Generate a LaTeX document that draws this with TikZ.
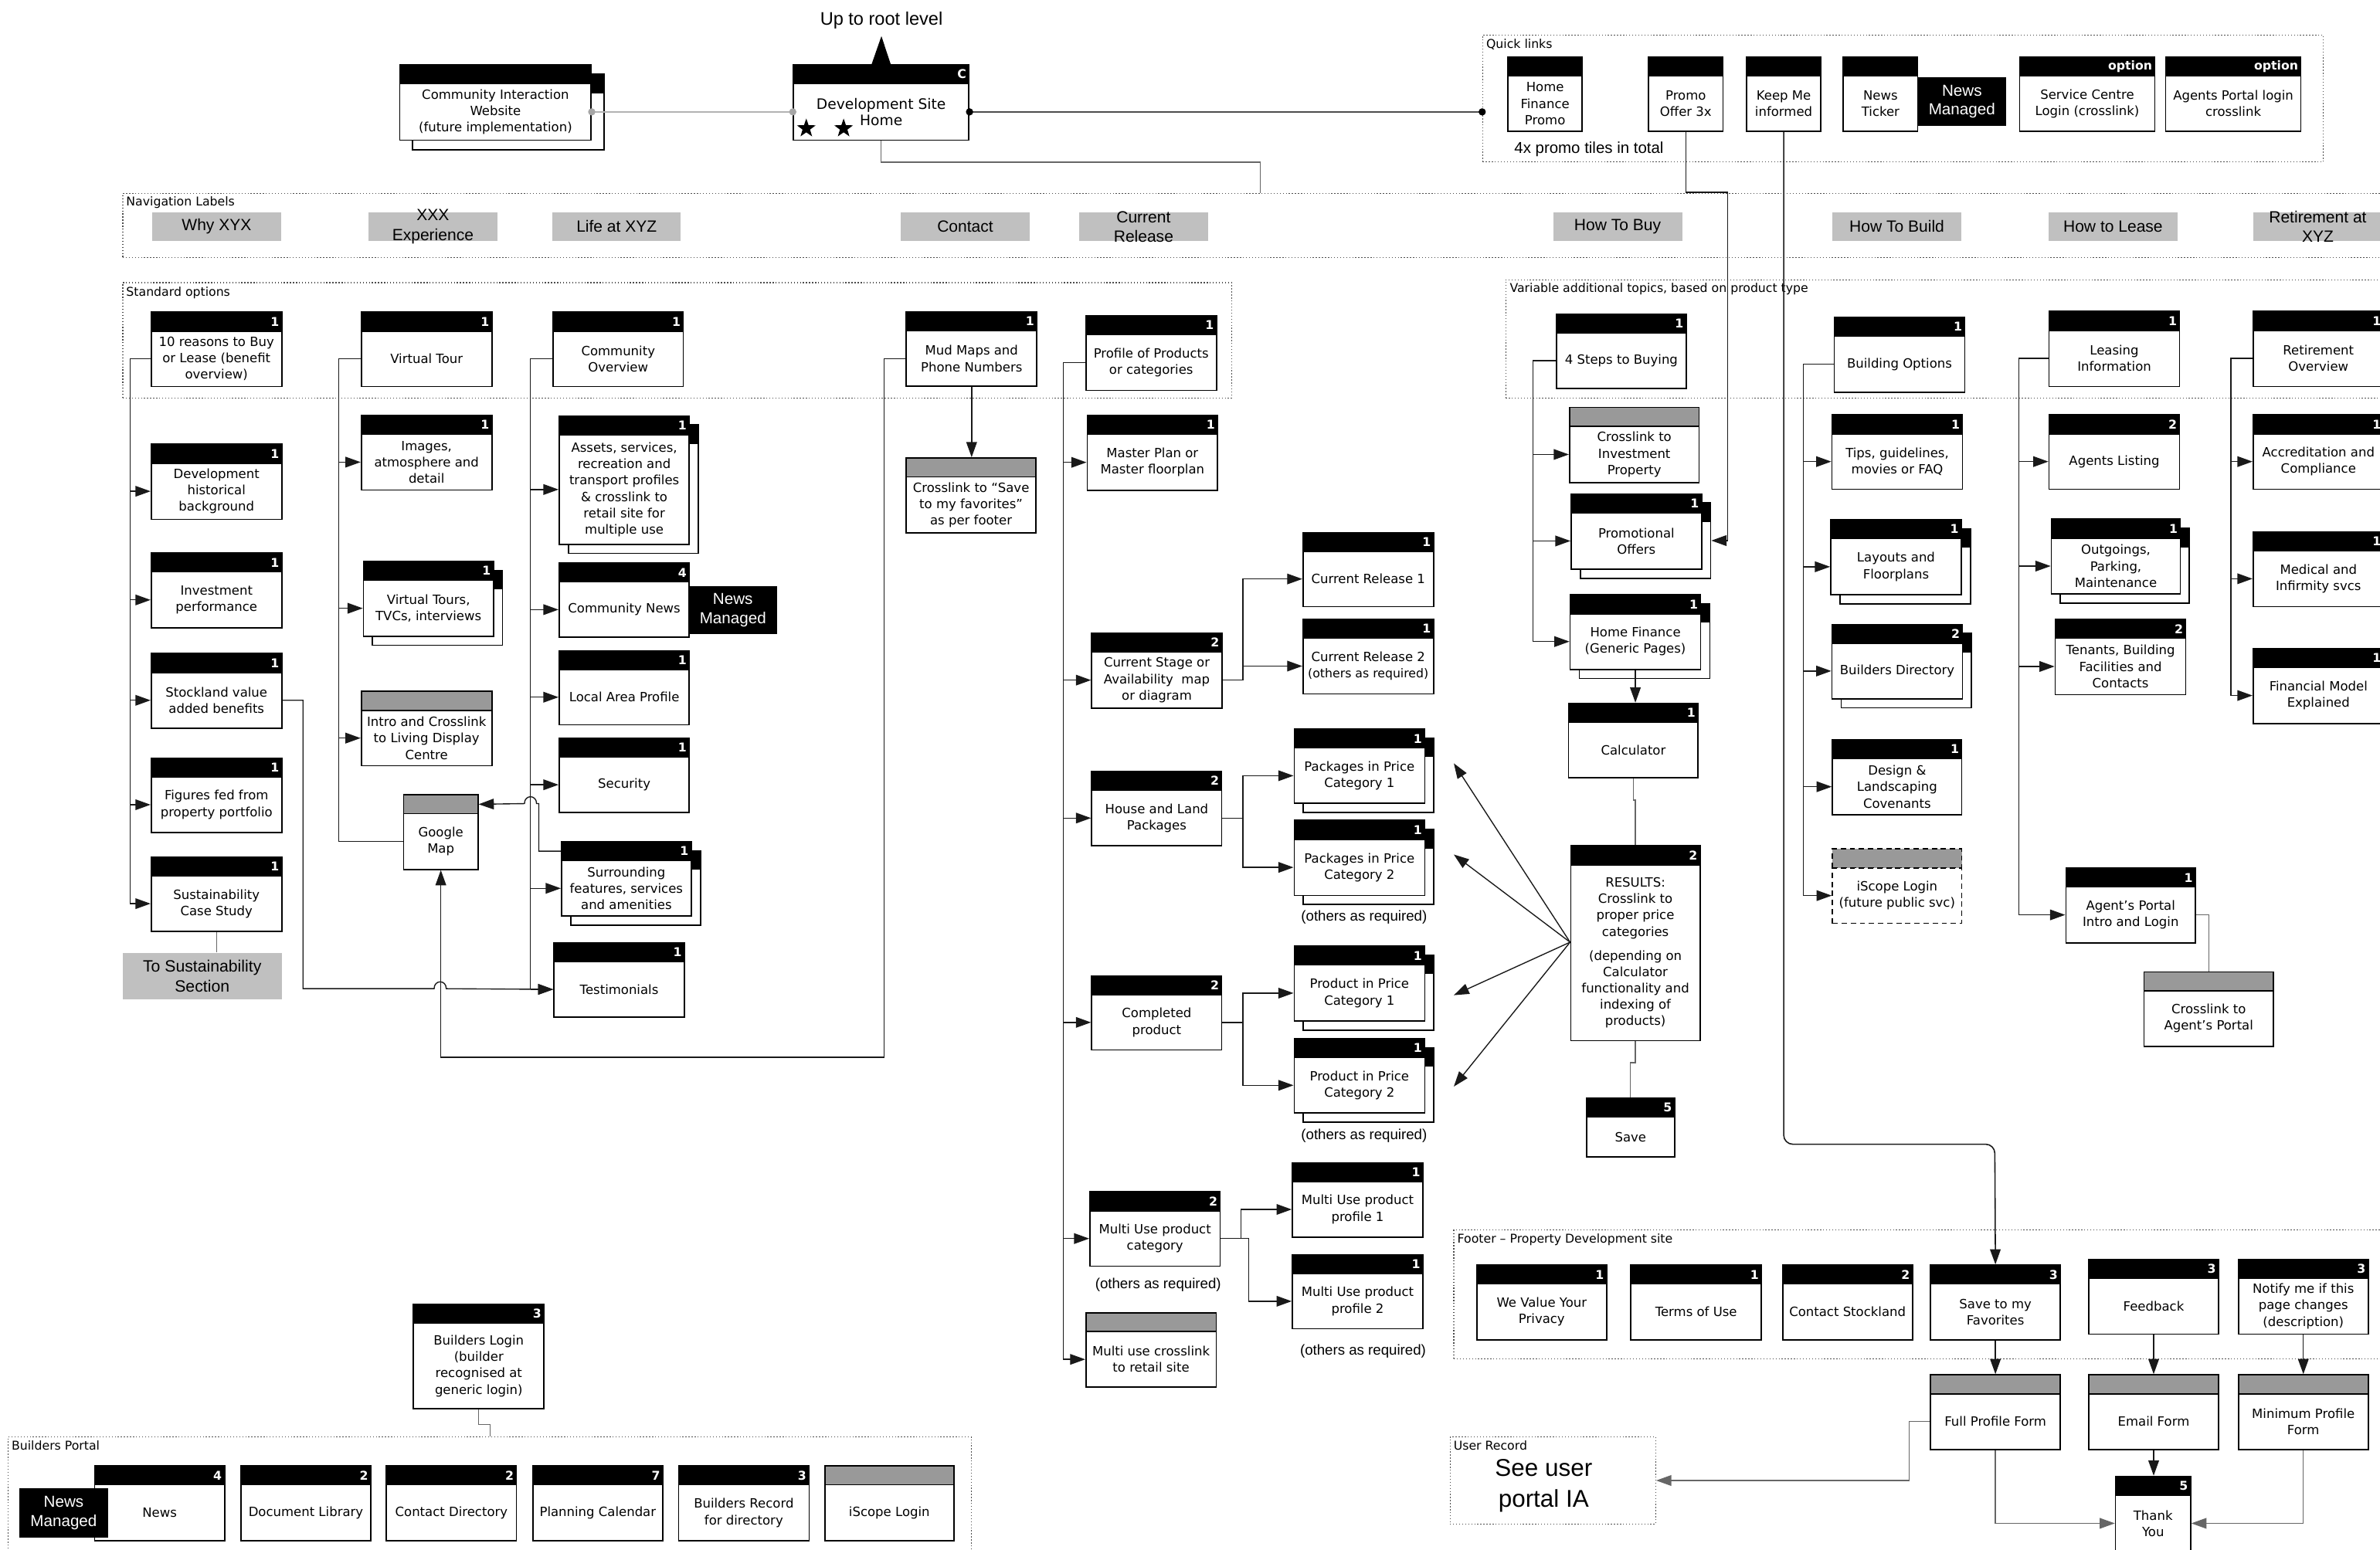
\documentclass[tikz,border=0pt]{standalone}
\usepackage{fontspec}
\setmainfont{Liberation Sans}
\newfontfamily\djv{DejaVu Sans}
\usetikzlibrary{arrows.meta,shapes.geometric,calc}
\newcommand\bxfnt{\djv\fontsize{8.4}{10.8}\selectfont}
\newcommand\smfnt{\fontsize{8}{10.8}\selectfont}
\newcommand\bgfnt{\djv\fontsize{9.5}{11.6}\selectfont}
\newcommand\numfnt{\djv\bfseries\fontsize{8}{9}\selectfont}
\definecolor{hdgray}{rgb}{0.6,0.6,0.6}
\definecolor{navgray}{rgb}{0.753,0.753,0.753}
\definecolor{lnk}{rgb}{0.1,0.1,0.1}
\tikzset{
  bx/.style={draw=black, line width=0.85pt, fill=white, inner sep=0pt, align=center, font=\bxfnt, anchor=north west},
  hdb/.style={draw=black, line width=0.85pt, fill=black, inner sep=0pt, anchor=north west, minimum height=12.5pt},
  hdx/.style={hdb, fill=hdgray},
  hnum/.style={font=\numfnt, text=white, anchor=east, inner xsep=2pt, inner ysep=0pt},
  conn/.style={draw=lnk, line width=0.7pt},
  arr/.style={conn, -{Triangle[length=10pt,width=7pt]}},
  grp/.style={draw=black!70, line width=0.6pt, dash pattern=on 0.7pt off 1.3pt, anchor=north west, inner sep=0pt},
  glab/.style={font=\djv\fontsize{8}{10}\selectfont, anchor=north west, inner sep=0pt},
  navbox/.style={fill=navgray, anchor=north west, inner sep=0pt, minimum height=19.1pt},
  navtxt/.style={font=\fontsize{10.7}{12.8}\selectfont, align=center, inner sep=0pt},
  nmgd/.style={fill=black, text=white, anchor=north west, inner sep=0pt, align=center, font=\fontsize{10.5}{12.5}\selectfont},
  note/.style={font=\fontsize{9.5}{11}\selectfont, inner sep=0pt},
  bkbox/.style={bx, path picture={\fill[black] (path picture bounding box.north west) rectangle ([yshift=-12.5pt]path picture bounding box.north east);}},
}
\newcommand\pgbox[8][hdb]{%
  \pgfmathsetmacro\bxh{#6-12.5}%
  \pgfmathsetmacro\bxy{#4+12.5}%
  \node[#1, minimum width=#5pt] (#2-h) at (#3,#4) {};
  \node[hnum] (#2-n) at (#2-h.east) {#7};
  \node[bx, minimum width=#5pt, minimum height=\bxh pt] (#2) at (#3,\bxy) {#8};
}
\newcommand\pgstack[5]{%
  \pgfmathsetmacro\sx{#2+6}\pgfmathsetmacro\sy{#3+6}%
  \node[bkbox, minimum width=#4pt, minimum height=#5pt] (#1-b) at (\sx,\sy) {};
}
\newcommand\grpbox[5]{%
  \pgfmathsetmacro\gw{#4-#2}\pgfmathsetmacro\gh{#5-#3}%
  \node[grp, minimum width=\gw pt, minimum height=\gh pt] (#1) at (#2,#3) {};
}
\newcommand\navlab[5]{%
  \node[navbox, minimum width=#4pt] (#1) at (#2,#3) {};
  \node[navtxt] (#1-t) at (#1.center) {#5};
}
\begin{document}
\begin{tikzpicture}[x=1pt,y=-1pt]
\fill[white] (0,0) rectangle (1568,1021);
\useasboundingbox (0,0) rectangle (1568,1021);

% ---------- groups ----------
\grpbox{gQuick}{976.5}{22.9}{1530.3}{106.5}
\grpbox{gNav}{80.6}{127.3}{1580}{169.4}
\grpbox{gStd}{80.6}{186}{811}{262}
\grpbox{gVar}{991.7}{184}{1580}{262}
\grpbox{gFoot}{957.5}{810.3}{1580}{895.3}
\grpbox{gUser}{955}{946.6}{1090.5}{1004}
\grpbox{gBuild}{5}{946.6}{639.8}{1040}
\node[glab] (lQuick) at (979,25.5) {Quick links};
\node[glab] (lNav) at (83,129.5) {Navigation Labels};
\node[glab] (lStd) at (83,189) {Standard options};
\node[glab] (lVar) at (994.5,186.5) {Variable additional topics, based on product type};
\node[glab] (lFoot) at (960,813) {Footer – Property Development site};
\node[glab] (lUser) at (957.5,949) {User Record};
\node[glab] (lBuild) at (7.5,949) {Builders Portal};

% ---------- top ----------
\node[font=\fontsize{12}{14}\selectfont, inner sep=0pt] (uproot) at (580.7,13.3) {Up to root level};
\node[bkbox, minimum width=126pt, minimum height=49.7pt] (commweb-b) at (271.5,48.5) {};
\pgbox{commweb}{263}{42.2}{126}{49.7}{}{Community Interaction\\Website\\(future implementation)}
\pgbox{devhome}{522.3}{42.2}{115.6}{49.7}{C}{\bgfnt Development Site\\\bgfnt Home}
\node[star, star points=5, star point ratio=2.5, fill=black, minimum size=13pt, inner sep=0pt] (st1) at (531.2,84.6) {};
\node[star, star points=5, star point ratio=2.5, fill=black, minimum size=13pt, inner sep=0pt] (st2) at (555.8,84.6) {};
\coordinate (upT) at (580.7,23.8);
\fill ([xshift=-6.25pt]devhome-h.north) -- (upT) -- ([xshift=6.25pt]devhome-h.north) -- cycle;

% quick links
\pgbox{qhome}{993}{37}{49}{49.2}{}{Home\\Finance\\Promo}
\pgbox{qpromo}{1085.7}{37}{49}{49.2}{}{Promo\\Offer 3x}
\pgbox{qkeep}{1150.2}{37}{49}{49.2}{}{Keep Me\\informed}
\pgbox{qnews}{1214}{37}{49}{49.2}{}{News\\Ticker}
\node[nmgd, minimum width=58.7pt, minimum height=31.9pt] (nm0) at (1263,50.9) {News\\Managed};
\pgbox{qserv}{1330.2}{37}{89}{49.2}{option}{Service Centre\\Login (crosslink)}
\pgbox{qagent}{1426.4}{37}{89}{49.2}{option}{Agents Portal login\\crosslink}
\node[font=\fontsize{10.4}{12}\selectfont, anchor=west, inner sep=0pt] (promoNote) at (997.5,98.4) {4x promo tiles in total};

% nav labels
\navlab{nv1}{100}{139.6}{85}{Why XYX}
\navlab{nv2}{242.5}{139.6}{85}{XXX\\Experience}
\navlab{nv3}{363.8}{139.6}{84.5}{Life at XYZ}
\navlab{nv4}{593.2}{139.6}{85}{Contact}
\navlab{nv5}{710.7}{139.6}{85}{Current\\Release}
\navlab{nv6}{1023}{139.6}{85}{How To Buy}
\navlab{nv7}{1207}{139.6}{85}{How To Build}
\navlab{nv8}{1349.4}{139.6}{85}{How to Lease}
\navlab{nv9}{1484.3}{139.6}{85}{Retirement at\\XYZ}

% ---------- column 1 ----------
\pgbox{why1}{99.2}{205.3}{86}{49}{1}{10 reasons to Buy\\or Lease (benefit\\overview)}
\pgbox{why2}{99.2}{292.3}{86}{49.5}{1}{Development\\historical\\background}
\pgbox{why3}{99.2}{364}{86}{49.3}{1}{Investment\\performance}
\pgbox{why4}{99.2}{430.2}{86}{49.2}{1}{Stockland value\\added benefits}
\pgbox{why5}{99.2}{499}{86}{49.2}{1}{Figures fed from\\property portfolio}
\pgbox{why6}{99.2}{564.2}{86}{49.2}{1}{Sustainability\\Case Study}
\node[navbox, minimum width=104.8pt, minimum height=30.6pt] (tosust) at (80.6,627.6) {};
\node[navtxt, font=\fontsize{10.8}{13}\selectfont] (tosust-t) at (tosust.center) {To Sustainability\\Section};

% ---------- column 2 ----------
\pgbox{xxx1}{237.6}{205.3}{86}{49}{1}{Virtual Tour}
\pgbox{xxx2}{237.6}{273.2}{86}{49.3}{1}{Images,\\atmosphere and\\detail}
\pgstack{xxx3}{239}{369.5}{85.7}{49.3}
\pgbox{xxx3}{239}{369.5}{85.7}{49.3}{1}{Virtual Tours,\\TVCs, interviews}
\pgbox[hdx]{xxx4}{237.6}{455.2}{86}{49}{}{Intro and Crosslink\\to Living Display\\Centre}
\pgbox[hdx]{gmap}{265.5}{523.3}{49}{49.2}{}{Google\\Map}

% ---------- column 3 ----------
\pgbox{life1}{364}{205.3}{85.7}{49}{1}{Community\\Overview}
\pgstack{life2}{368}{273.6}{85.7}{84.6}
\pgbox{life2}{368}{273.6}{85.7}{84.6}{1}{Assets, services,\\recreation and\\transport profiles\\\& crosslink to\\retail site for\\multiple use}
\pgbox{life3}{368}{370.6}{85.7}{48.9}{4}{Community News}
\node[nmgd, minimum width=57.9pt, minimum height=31.8pt] (nm1) at (453.7,385.9) {News\\Managed};
\pgbox{life4}{368}{428.3}{85.7}{48.9}{1}{Local Area Profile}
\pgbox{life5}{368}{486}{85.7}{48.9}{1}{Security}
\pgstack{life6}{369.5}{554.2}{85.5}{49}
\pgbox{life6}{369.5}{554.2}{85.5}{49}{1}{Surrounding\\features, services\\and amenities}
\pgbox{life7}{364.5}{620.9}{86}{48.8}{1}{Testimonials}

% ---------- column 4 ----------
\pgbox{mud}{596.7}{205}{86}{49.2}{1}{Mud Maps and\\Phone Numbers}
\pgbox[hdx]{xsave}{596.7}{301.3}{85.3}{49.5}{}{Crosslink to “Save\\to my favorites”\\as per footer}

% ---------- column 5 ----------
\pgbox{prof}{715}{207.5}{86}{49.3}{1}{Profile of Products\\or categories}
\pgbox{mplan}{715.8}{273.3}{86}{49.4}{1}{Master Plan or\\Master floorplan}
\pgbox{cstage}{718.8}{416.8}{85.8}{49.4}{2}{Current Stage or\\Availability\ \ map\\or diagram}
\pgbox{cr1}{858}{350.4}{86}{48.9}{1}{Current Release 1}
\pgbox{cr2}{858}{407.7}{86}{49.1}{1}{Current Release 2\\{\smfnt(others as required)}}
\pgbox{hl}{718.8}{507.8}{85.7}{49.2}{2}{House and Land\\Packages}
\pgstack{pk1}{852.2}{480}{86}{49}
\pgbox{pk1}{852.2}{480}{86}{49}{1}{Packages in Price\\Category 1}
\pgstack{pk2}{852.2}{540.2}{86}{49.4}
\pgbox{pk2}{852.2}{540.2}{86}{49.4}{1}{Packages in Price\\Category 2}
\node[note] (oth1) at (898.7,604.4) {(others as required)};
\pgbox{comp}{718.8}{642.6}{85.7}{48.9}{2}{Completed\\product}
\pgstack{pr1}{852.2}{623}{86}{49.5}
\pgbox{pr1}{852.2}{623}{86}{49.5}{1}{Product in Price\\Category 1}
\pgstack{pr2}{852.2}{684}{86}{49}
\pgbox{pr2}{852.2}{684}{86}{49}{1}{Product in Price\\Category 2}
\node[note] (oth2) at (898.7,748.4) {(others as required)};
\pgbox{mu}{717.6}{785}{85.8}{49}{2}{Multi Use product\\category}
\node[note] (oth3) at (763,846.7) {(others as required)};
\pgbox[hdx]{mux}{715}{864.6}{85.8}{49}{}{Multi use crosslink\\to retail site}
\pgbox{mu1}{851}{765.8}{86}{49}{1}{Multi Use product\\profile 1}
\pgbox{mu2}{851}{826.4}{86}{48.8}{1}{Multi Use product\\profile 2}
\node[note] (oth4) at (898,890.3) {(others as required)};

% ---------- how to buy ----------
\pgbox{buy1}{1025}{206.6}{85.5}{48.9}{1}{4 Steps to Buying}
\pgbox[hdx]{buy2}{1033.6}{268}{85.4}{49.6}{}{Crosslink to\\Investment\\Property}
\pgstack{buy3}{1034.7}{325}{85.9}{49.6}
\pgbox{buy3}{1034.7}{325}{85.9}{49.6}{1}{Promotional\\Offers}
\pgstack{buy4}{1034}{391.5}{86}{49.2}
\pgbox{buy4}{1034}{391.5}{86}{49.2}{1}{Home Finance\\(Generic Pages)}
\pgbox{calc}{1033}{463}{85.3}{49}{1}{Calculator}
\pgbox{res}{1034.4}{557}{85.2}{128.4}{2}{RESULTS:\\Crosslink to\\proper price\\categories\\[5pt](depending on\\Calculator\\functionality and\\indexing of\\products)}
\pgbox{save}{1044.8}{723}{58}{39}{5}{Save}

% ---------- how to build ----------
\pgbox{bld1}{1208}{208.7}{86}{49.3}{1}{Building Options}
\pgbox{bld2}{1206.5}{273}{86}{49}{1}{Tips, guidelines,\\movies or FAQ}
\pgstack{bld3}{1205.7}{342}{86}{49.6}
\pgbox{bld3}{1205.7}{342}{86}{49.6}{1}{Layouts and\\Floorplans}
\pgstack{bld4}{1206.5}{411}{86}{49}
\pgbox{bld4}{1206.5}{411}{86}{49}{2}{Builders Directory}
\pgbox{bld5}{1206.8}{487}{85.2}{49.5}{1}{Design \&\\Landscaping\\Covenants}
\node[hdx, dash pattern=on 3.5pt off 2.5pt, minimum width=85.2pt] (bld6-h) at (1206.8,559) {};
\node[bx, dash pattern=on 3.5pt off 2.5pt, minimum width=85.2pt, minimum height=36.5pt] (bld6) at (1206.8,571.5) {iScope Login\\(future public svc)};

% ---------- how to lease ----------
\pgbox{ls1}{1349.5}{204.8}{86}{49.5}{1}{Leasing\\Information}
\pgbox{ls2}{1349.5}{273}{86}{49}{2}{Agents Listing}
\pgstack{ls3}{1351}{341.7}{85}{49.3}
\pgbox{ls3}{1351}{341.7}{85}{49.3}{1}{Outgoings,\\Parking,\\Maintenance}
\pgbox{ls4}{1353.6}{407.7}{86}{49.6}{2}{Tenants, Building\\Facilities and\\Contacts}
\pgbox{ls5}{1360.6}{571.6}{85.4}{49.2}{1}{Agent’s Portal\\Intro and Login}
\pgbox[hdx]{ls6}{1412}{640}{85.4}{49}{}{Crosslink to\\Agent’s Portal}

% ---------- retirement ----------
\pgbox{ret1}{1484}{204.8}{86}{49.5}{1}{Retirement\\Overview}
\pgbox{ret2}{1484}{273}{86}{49}{1}{Accreditation and\\Compliance}
\pgbox{ret3}{1484}{350}{86}{49.4}{1}{Medical and\\Infirmity svcs}
\pgbox{ret4}{1484}{427}{86}{49.3}{1}{Financial Model\\Explained}

% ---------- footer ----------
\pgbox{ft1}{972.6}{833.2}{85.4}{49.2}{1}{We Value Your\\Privacy}
\pgbox{ft2}{1074}{833.2}{86}{49.2}{1}{Terms of Use}
\pgbox{ft3}{1174}{833.2}{85.5}{49.2}{2}{Contact Stockland}
\pgbox{ft4}{1271.4}{833.2}{85.6}{49.2}{3}{Save to my\\Favorites}
\pgbox{ft5}{1375.7}{829.5}{85.5}{49.2}{3}{Feedback}
\pgbox{ft6}{1474.3}{829.5}{85.5}{49.2}{3}{Notify me if this\\page changes\\(description)}
\pgbox[hdx]{fm1}{1271.4}{905.5}{85.6}{49.2}{}{Full Profile Form}
\pgbox[hdx]{fm2}{1375.7}{905.5}{85.5}{49.2}{}{Email Form}
\pgbox[hdx]{fm3}{1474.3}{905.5}{85.5}{49.2}{}{Minimum Profile\\Form}
\pgbox{ty}{1393.3}{972.4}{49.5}{49.5}{5}{Thank\\You}
\node[font=\fontsize{16}{20}\selectfont, align=center, inner sep=0pt] (seeUser) at (1017,979) {See user\\portal IA};

% ---------- builders ----------
\pgbox{blog}{272}{859}{86}{69}{3}{Builders Login\\(builder\\recognised at\\generic login)}
\pgbox{bp1}{62}{965.5}{85.5}{49.5}{4}{News}
\pgbox{bp2}{158.3}{965.5}{85.6}{49.5}{2}{Document Library}
\pgbox{bp3}{254.2}{965.5}{85.6}{49.5}{2}{Contact Directory}
\pgbox{bp4}{350.6}{965.5}{85.6}{49.5}{7}{Planning Calendar}
\pgbox{bp5}{446.6}{965.5}{86}{49.5}{3}{Builders Record\\for directory}
\pgbox[hdx]{bp6}{543}{965.5}{85}{49.5}{}{iScope Login}
\node[nmgd, minimum width=58.5pt, minimum height=32.5pt] (nm2) at (12.5,980.5) {News\\Managed};

% ================= connectors =================
\draw[line width=1pt, draw=black!30] (commweb.east) -- (devhome.west);
\fill[black!35] (commweb.east) circle (2.4pt);
\fill[black!35] (devhome.west) circle (2.4pt);
\draw[line width=0.9pt, draw=black!70] (devhome.east) -- (devhome.east -| gQuick.west);
\fill (devhome.east) circle (2.4pt);
\fill (devhome.east -| gQuick.west) circle (2.4pt);
\coordinate (navIn) at (830.3,127.3);
\draw[conn, draw=black!60] (devhome.south) -- ++(0,14.2) -| (navIn);

% column 1
\coordinate (t1) at (85.7,0);
\draw[conn] (why1.west) -- (why1.west -| t1) -- (why6.west -| t1);
\foreach \n in {why2,why3,why4,why5,why6} \draw[arr] (\n.west -| t1) -- (\n.west);
\draw[conn, draw=black!60] (why6.south) -- (why6.south |- tosust.north);
\coordinate (sk) at (199.6,651.5);
\draw[arr] (why4.east) -| (sk) -- (286,651.5) .. controls (286,645.5) and (294,645.5) .. (294,651.5) -- (life7.west);

% column 2
\coordinate (t2) at (223.2,0);
\draw[conn] (xxx1.west) -- (xxx1.west -| t2) |- (gmap.west);
\foreach \n in {xxx2,xxx3,xxx4} \draw[arr] (\n.west -| t2) -- (\n.west);

% column 3
\coordinate (t3) at (349.5,0);
\draw[conn] (life1.west) -- (life1.west -| t3) -- (life7.west -| t3);
\foreach \n in {life2,life3,life4,life5,life6,life7} \draw[arr] (\n.west -| t3) -- (\n.west);
\draw[arr] (life6-h.west) -| (355,529.55) -- (353.5,529.55) .. controls (353.5,523.5) and (345.5,523.5) .. (345.5,529.55) -- (gmap-h.east);

% column 4
\draw[arr] (mud.west) -| (582.6,696.7) -| (gmap.south);
\draw[arr] (mud.south) -- (mud.south |- xsave-h.north);

% column 5
\coordinate (t5) at (700.5,0);
\draw[conn] (prof.west) -- (prof.west -| t5) -- (mux.west -| t5);
\foreach \n in {mplan,cstage,hl,comp,mu,mux} \draw[arr] (\n.west -| t5) -- (\n.west);
\coordinate (b1) at (818.8,0);
\draw[arr] (cstage.east) -- (cstage.east -| b1) |- (cr1.west);
\draw[arr] (cstage.east -| b1) |- (cr2.west);
\draw[arr] (hl.east) -- (hl.east -| b1) |- (pk1.west);
\draw[arr] (hl.east -| b1) |- (pk2.west);
\draw[arr] (comp.east) -- (comp.east -| b1) |- (pr1.west);
\draw[arr] (comp.east -| b1) |- (pr2.west);
\coordinate (b2) at (817.5,0);
\coordinate (b3) at (822.6,0);
\draw[arr] (mu.east) -- (mu.east -| b2) |- (mu1.west);
\draw[arr] (mu.east) -- (mu.east -| b3) |- (mu2.west);

% how to buy
\coordinate (t6) at (1010,0);
\draw[conn] (buy1.west) -- (buy1.west -| t6) -- (buy4.west -| t6);
\foreach \n in {buy2,buy3,buy4} \draw[arr] (\n.west -| t6) -- (\n.west);
\draw[arr, line width=0.8pt] (qpromo.south) |- (1138.2,126.7) |- (buy3-b.east);
\coordinate (kc) at (1314.2,754);
\draw[arr, line width=0.8pt, rounded corners=6pt] (qkeep.south) |- (kc) -- (ft4-h.north);
\draw[arr] (buy4.south) -- (buy4.south |- calc-h.north);
\draw[conn, draw=black!60] (calc.south) -- ++(0,14.4) -| (res-h.north);
\draw[conn, draw=black!60] (res.south) -- ++(0,14) -| (save-h.north);
\coordinate (a1) at (957.8,503);
\coordinate (a2) at (957.8,563.1);
\coordinate (a3) at (957.8,655.8);
\coordinate (a4) at (957.8,716);
\foreach \a in {a1,a2,a3,a4} \draw[arr] ([yshift=7pt]res.west) -- (\a);

% how to build
\coordinate (t7) at (1188,0);
\draw[conn] (bld1.west) -- (bld1.west -| t7) -- (bld6.west -| t7);
\foreach \n in {bld2,bld3,bld4,bld5,bld6} \draw[arr] (\n.west -| t7) -- (\n.west);

% how to lease
\coordinate (t8) at (1330,0);
\draw[conn] (ls1.west) -- (ls1.west -| t8) -- (ls5.west -| t8);
\foreach \n in {ls2,ls3,ls4,ls5} \draw[arr] (\n.west -| t8) -- (\n.west);
\draw[conn, draw=black!60] (ls5.east) -| (ls6-h.north);

% retirement
\coordinate (t9) at (1469.8,0);
\draw[conn] (ret1.west) -- (ret1.west -| t9) -- (ret4.west -| t9);
\foreach \n in {ret2,ret3,ret4} \draw[arr] (\n.west -| t9) -- (\n.west);

% footer
\draw[arr] (ft4.south) -- (fm1-h.north);
\draw[arr] (ft5.south) -- (fm2-h.north);
\draw[arr] (ft6.south) -- (fm3-h.north);
\draw[arr] (fm2.south) -- (fm2.south |- ty-h.north);
\draw[arr, draw=black!60] (fm1.south) |- (ty.west);
\draw[arr, draw=black!60] (fm3.south) |- (ty.east);
\draw[arr, draw=black!60] (fm1.west) -- ++(-13.5,0) |- (gUser.east);

% builders
\coordinate (bpIn) at (322.8,946.6);
\draw[conn, draw=black!60] (blog.south) -- ++(0,9.7) -| (bpIn);
\end{tikzpicture}
\end{document}
